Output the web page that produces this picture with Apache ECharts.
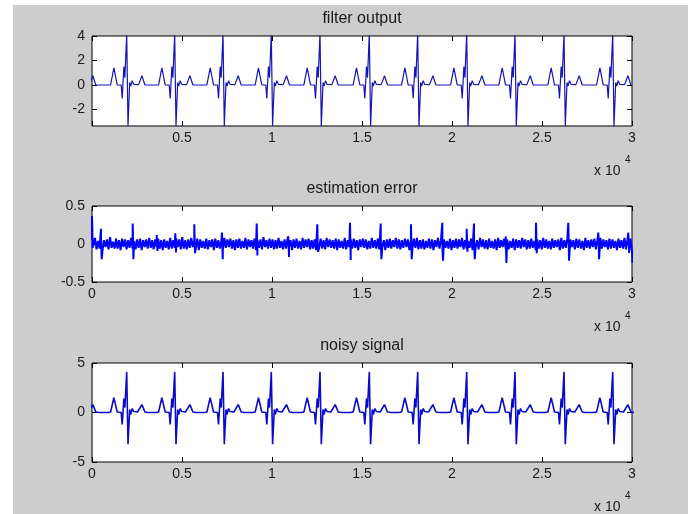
<!DOCTYPE html>
<html><head><meta charset="utf-8">
<script src="https://cdn.jsdelivr.net/npm/echarts@6/dist/echarts.min.js"></script>
<style>html,body{margin:0;padding:0;background:#fff}#c{width:688px;height:514px}</style>
</head><body><div id="c"></div>
<script>
// ---------- data ----------
const titles = ['filter output', 'estimation error', 'noisy signal'];
const xTicks = [0, 5000, 10000, 15000, 20000, 25000, 30000];
const xTickLabels = ['0', '0.5', '1', '1.5', '2', '2.5', '3'];
const yTicks1 = [-2, 0, 2, 4];
const yTickLabels1 = ['-2', '0', '2', '4'];
const yTicks2 = [-0.5, 0, 0.5];
const yTickLabels2 = ['-0.5', '0', '0.5'];
const yTicks3 = [-5, 0, 5];
const yTickLabels3 = ['-5', '0', '5'];
const xScaleLabel = 'x 10';
const xScaleExp = '4';

// R-peak sample positions (one beat before the window start)
const rPeaks = [-800, 1928, 4594, 7278, 9961, 12667, 15406, 18094, 20817, 23500, 26222, 28928];
// one beat of the filter output: [offset from R peak, value]
const filterBeat = [[-895, 0], [-712, 1.4], [-528, 0], [-306, 0], [-250, -1.1], [-156, 1.5], [-100, 0.6],
  [0, 4.2], [72, -3.35], [167, 0.2], [222, -0.1], [306, 0.35], [390, 0.05], [660, 0.03], [845, 0.75], [1012, 0]];
// one beat of the noisy signal
const noisyBeat = [[-1200, 0], [-1120, 0.2], [-1050, 0], [-895, 0.05], [-712, 1.5], [-528, 0.05], [-306, 0],
  [-250, -1.2], [-156, 1.4], [-100, 0.5], [0, 4.1], [72, -3.2], [167, 0.3], [222, -0.2], [306, 0.4], [390, 0.1],
  [500, 0.25], [600, 0.05], [660, 0.1], [845, 0.8], [1012, 0.05], [1100, 0.12], [1200, 0]];

// estimation error: background noise band (evenly spaced samples over 0..30000)
const errNoise = [
  .06,-.05,.08,-.07,.04,-.06,.07,-.08,.05,-.04,.06,-.07,.09,-.05,.03,-.06,.07,-.06,.05,-.08,
  .07,-.04,.06,-.07,.05,-.05,.08,-.06,.04,-.07,.06,-.05,.07,-.08,.05,-.04,.06,-.06,.08,-.05,
  .05,-.07,.06,-.04,.07,-.06,.05,-.08,.06,-.05,.04,-.07,.08,-.06,.05,-.05,.07,-.04,.06,-.07,
  .09,-.06,.05,-.07,.06,-.05,.08,-.04,.05,-.06,.07,-.08,.06,-.05,.04,-.06,.07,-.07,.05,-.04,
  .06,-.08,.07,-.05,.05,-.06,.04,-.07,.08,-.05,.06,-.04,.07,-.06,.05,-.08,.06,-.05,.07,-.06,
  .04,-.05,.08,-.07,.06,-.04,.05,-.06,.07,-.08,.05,-.05,.06,-.07,.09,-.04,.05,-.06,.07,-.05,
  .06,-.07,.05,-.06,.08,-.05,.04,-.07,.06,-.06,.07,-.04,.05,-.08,.06,-.05,.07,-.06,.04,-.07,
  .08,-.05,.06,-.04,.07,-.07,.05,-.06,.06,-.08,.04,-.05,.07,-.06,.05,-.07,.08,-.04,.06,-.05,
  .05,-.06,.07,-.08,.06,-.05,.04,-.06,.08,-.07,.05,-.04,.06,-.06,.07,-.05,.05,-.08,.06,-.04,
  .07,-.05,.06,-.07,.04,-.06,.08,-.05,.05,-.06,.07,-.07,.06,-.04,.05,-.08,.06,-.05,.07,-.06,
  .05,-.04,.08,-.06,.06,-.07,.05,-.05,.07,-.04,.06,-.08,.04,-.06,.07,-.05,.08,-.07,.05,-.06,
  .06,-.07,.04,-.05,.07,-.06,.06,-.08,.05,-.04,.08,-.06,.05,-.07,.06,-.05,.04,-.06,.07,-.08,
  .05,-.05,.07,-.06,.06,-.04,.08,-.07,.05,-.06,.04,-.05,.07,-.08,.06,-.05,.05,-.07,.08,-.04,
  .06,-.06,.05,-.07,.07,-.05,.04,-.06,.06,-.08,.08,-.05,.05,-.04,.07,-.06,.06,-.07,.04,-.05,
  .07,-.08,.06,-.05,.05,-.06,.08,-.04,.06,-.07,.05,-.06,.07,-.05,.04,-.08,.06,-.06,.05,-.07,
  .08,-.05,.06,-.06,.04,-.07,.07,-.05,.05,-.04,.06,-.08,.08,-.06,.05,-.05,.07,-.07,.06,-.04,
  .05,-.07,.07,-.05,.06,-.06,.04,-.08,.08,-.05,.05,-.06,.06,-.04,.07,-.07,.05,-.05,.08,-.06,
  .06,-.04,.05,-.07,.07,-.06,.06,-.05,.04,-.08,.07,-.05,.05,-.06,.08,-.07,.06,-.05,.07,-.1
];
// estimation error spikes: [sample, peak up, peak down]
const errSpikes = [[0, 0.37, -0.05], [500, 0.2, -0.2], [2261, 0.27, -0.2], [3594, 0.12, -0.09], [4628, 0.14, -0.11],
  [5683, 0.26, -0.12], [7222, 0.15, -0.2], [9150, 0.27, -0.15], [10906, 0.1, -0.17], [12517, 0.26, -0.1],
  [14333, 0.28, -0.21], [16039, 0.27, -0.2], [17722, 0.26, -0.2], [19461, 0.28, -0.22], [20817, 0.2, -0.1],
  [21222, 0.27, -0.2], [22983, 0.1, -0.25], [24667, 0.28, -0.12], [26461, 0.28, -0.22], [28128, 0.15, -0.2],
  [29794, 0.15, -0.12], [29990, 0.05, -0.25]];

// ---------- build series ----------
function beats(peaks, beat) {
  const pts = [];
  peaks.forEach(r => beat.forEach(p => pts.push([r + p[0], p[1]])));
  return pts;
}
const filterData = beats(rPeaks, filterBeat);
const noisyData = beats(rPeaks, noisyBeat);
const errData = [];
const step = 30000 / (errNoise.length - 1);
errNoise.forEach((v, i) => errData.push([i * step, v]));
errSpikes.forEach(s => { errData.push([s[0], s[1]]); errData.push([s[0] + 40, s[2]]); });
errData.sort((a, b) => a[0] - b[0]);

// ---------- chart ----------
const FONT = 'Liberation Sans, Arial, sans-serif';
const TXT = '#1a1a1a';
const grids = [
  { left: 92, top: 36, width: 540, height: 90 },
  { left: 92, top: 206, width: 540, height: 76 },
  { left: 92, top: 363, width: 540, height: 99 }
];
const yRanges = [[-3.35, 4], [-0.5, 0.5], [-5, 5]];
const yTicks = [yTicks1, yTicks2, yTicks3];
const yLabels = [yTickLabels1, yTickLabels2, yTickLabels3];

const xAxis = [], yAxis = [], graphic = [];
graphic.push({ type: 'rect', shape: { x: 13, y: 5, width: 675, height: 509 }, style: { fill: '#cdcdcd' }, z: -10, silent: true });
const tick = vals => ({ inside: true, length: 5, customValues: vals, lineStyle: { color: '#000', width: 1 } });
grids.forEach((g, i) => {
  const xl = i === 0 ? xTicks.slice(1) : xTicks;
  xAxis.push({
    gridIndex: i, type: 'value', min: 0, max: 30000, position: 'bottom',
    axisLine: { show: false, onZero: false }, splitLine: { show: false },
    axisTick: tick(xTicks),
    axisLabel: { customValues: xl, formatter: v => xTickLabels[xTicks.indexOf(v)], color: TXT, fontSize: 14, fontFamily: FONT, margin: 5 }
  });
  xAxis.push({
    gridIndex: i, type: 'value', min: 0, max: 30000, position: 'top',
    axisLine: { show: false, onZero: false }, splitLine: { show: false },
    axisTick: tick(xTicks),
    axisLabel: { show: false }
  });
  yAxis.push({
    gridIndex: i, type: 'value', min: yRanges[i][0], max: yRanges[i][1], position: 'left',
    axisLine: { show: false, onZero: false }, splitLine: { show: false },
    axisTick: tick(yTicks[i]),
    axisLabel: { customValues: yTicks[i], formatter: v => yLabels[i][yTicks[i].indexOf(v)], color: TXT, fontSize: 14, fontFamily: FONT, margin: 7 }
  });
  yAxis.push({
    gridIndex: i, type: 'value', min: yRanges[i][0], max: yRanges[i][1], position: 'right',
    axisLine: { show: false, onZero: false }, splitLine: { show: false },
    axisTick: tick(yTicks[i]),
    axisLabel: { show: false }
  });
  const bottom = g.top + g.height;
  graphic.push({ type: 'text', x: g.left + g.width / 2, y: g.top - 17, style: { text: titles[i], fill: TXT, font: '16px ' + FONT, textAlign: 'center', textVerticalAlign: 'middle' } });
  graphic.push({ type: 'text', x: 594, y: bottom + 45, style: { text: xScaleLabel, fill: TXT, font: '14px ' + FONT, textAlign: 'left', textVerticalAlign: 'middle' } });
  graphic.push({ type: 'text', x: 625, y: bottom + 34, style: { text: xScaleExp, fill: TXT, font: '10px ' + FONT, textAlign: 'left', textVerticalAlign: 'middle' } });
});

const option = {
  animation: false,
  backgroundColor: '#ffffff',
  grid: grids.map(g => Object.assign({ show: true, backgroundColor: '#fff', borderColor: '#000', borderWidth: 1 }, g)),
  xAxis, yAxis, graphic,
  series: [
    { type: 'line', xAxisIndex: 0, yAxisIndex: 0, data: filterData, showSymbol: false, clip: true, lineStyle: { color: '#1414b8', width: 1.2 } },
    { type: 'line', xAxisIndex: 2, yAxisIndex: 2, data: errData, showSymbol: false, clip: true, lineStyle: { color: '#0000ff', width: 2 } },
    { type: 'line', xAxisIndex: 4, yAxisIndex: 4, data: noisyData, showSymbol: false, clip: true, lineStyle: { color: '#0a0acc', width: 1.6 } }
  ]
};
const chart = echarts.init(document.getElementById('c'), null, { renderer: 'canvas' });
chart.setOption(option);
</script></body></html>
